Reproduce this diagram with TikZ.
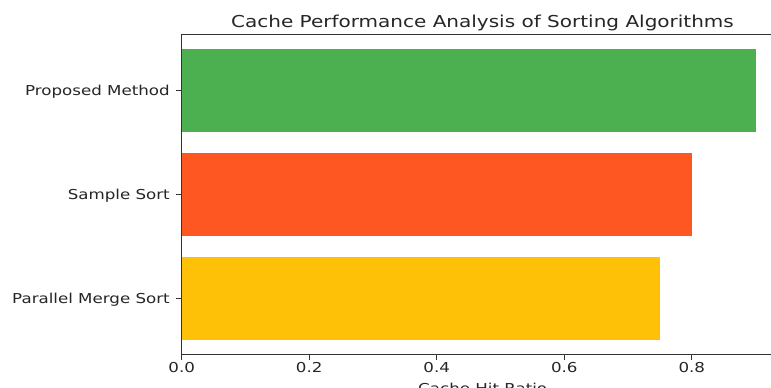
\documentclass[tikz,border=0pt]{standalone}
\usepackage{fontspec}
\setmainfont{DejaVu Sans}
\definecolor{barGreen}{HTML}{4CAF50}
\definecolor{barRed}{HTML}{FF5722}
\definecolor{barAmber}{HTML}{FFC107}
\definecolor{inkText}{HTML}{262626}
\definecolor{spineCol}{HTML}{333333}
\begin{document}
\begin{tikzpicture}[x=0.75pt,y=-0.75pt,
  ticklab/.style={font=\fontsize{12.5}{14}\selectfont, text=inkText, inner sep=0pt, yscale=0.82},
  titlelab/.style={font=\fontsize{15}{18}\selectfont, text=inkText, inner sep=0pt, yscale=0.82},
  spine/.style={draw=spineCol, line width=0.9pt},
  tickmark/.style={draw=spineCol, line width=0.9pt}]
  \useasboundingbox (0,0) rectangle (771,387);
  \clip (0,0) rectangle (771,387);
  \fill[white] (0,0) rectangle (771,387);

  % data scale: x = 181.7 + 637.6 * value
  \def\xo{181.7}
  \def\xs{637.6}

  % bars
  \fill[barGreen] (\xo,49) rectangle ({\xo+0.90*\xs},132.2);
  \fill[barRed]   (\xo,153) rectangle ({\xo+0.80*\xs},236.2);
  \fill[barAmber] (\xo,257) rectangle ({\xo+0.75*\xs},340.2);

  % axes frame (left, top, bottom)
  \coordinate (tl) at (\xo,34.8);
  \coordinate (bl) at (\xo,354.5);
  \coordinate (tr) at (790,34.8);
  \coordinate (br) at (790,354.5);
  \draw[spine] (tr) -- (tl) -- (bl) -- (br);

  % x ticks and labels
  \foreach \v/\t [count=\i] in {0/0.0,0.2/0.2,0.4/0.4,0.6/0.6,0.8/0.8}{
    \coordinate (xt\i) at ({\xo+\v*\xs},354.5);
    \draw[tickmark] (xt\i) -- ++(0,5);
    \node[ticklab, anchor=base] (xl\i) at ({\xo+\v*\xs},372.3) {\t};
  }

  % y ticks and labels
  \foreach \yc/\name/\txt in {90.6/pm/Proposed Method,194.6/ss/Sample Sort,298.6/pms/Parallel Merge Sort}{
    \coordinate (yt\name) at (\xo,\yc);
    \draw[tickmark] (yt\name) -- ++(-6,0);
    \node[ticklab, anchor=base east] (yl\name) at (170,\yc+5) {\txt};
  }

  % axis label and title
  \node[ticklab, anchor=base] (xlabel) at (482.7,393) {Cache Hit Ratio};
  \node[titlelab, anchor=base] (title) at (482.5,27.7) {Cache Performance Analysis of Sorting Algorithms};
\end{tikzpicture}
\end{document}
